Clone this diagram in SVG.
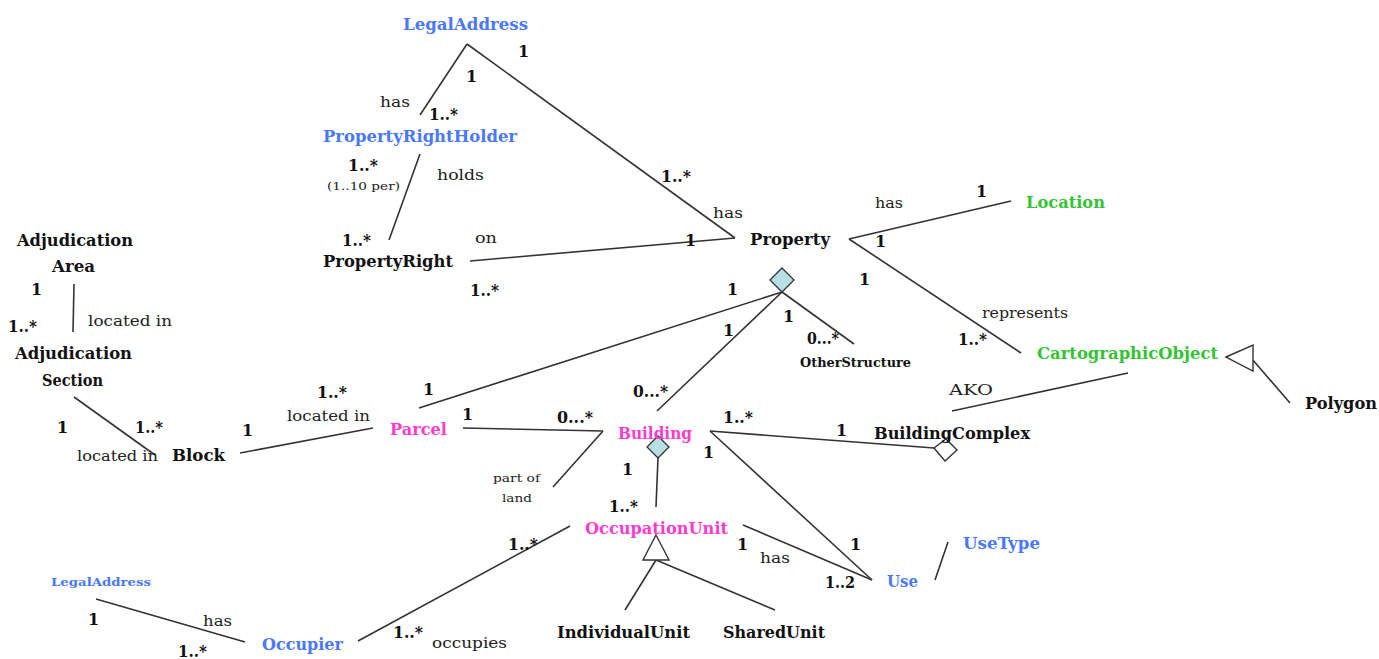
<svg xmlns="http://www.w3.org/2000/svg" width="1379" height="659" viewBox="0 0 1379 659">
  <style>
    .n { font-family: "DejaVu Serif", "Liberation Serif", serif; font-weight: bold; font-size: 17px; fill: #111; }
    .blue { fill: #4a78ff; }
    .green { fill: #33c433; }
    .pink { fill: #ff3ccc; }
    .sm { font-size: 12.5px; }
    .xs { font-size: 11.5px; }
    .mu { font-family: "DejaVu Serif", "Liberation Serif", serif; font-weight: bold; font-size: 16px; fill: #111; }
    .lb { font-family: "DejaVu Serif", "Liberation Serif", serif; font-size: 15.5px; fill: #222; }
    .lbs { font-family: "DejaVu Serif", "Liberation Serif", serif; font-size: 11.5px; fill: #222; }
    .ln { stroke: #333; stroke-width: 1.6; fill: none; }
    .agg { fill: #b8dfe3; stroke: #333; stroke-width: 1.3; }
    .open { fill: #fff; stroke: #333; stroke-width: 1.4; }
  </style>
  <rect width="1379" height="659" fill="#fff"/>

  <!-- associations, aggregations and generalizations -->
  <g id="connectors">
    <line class="ln" x1="467" y1="44" x2="420" y2="115"/>
    <line class="ln" x1="467" y1="44" x2="735" y2="238"/>
    <line class="ln" x1="420" y1="154" x2="389" y2="240"/>
    <line class="ln" x1="470" y1="261" x2="735" y2="238"/>
    <line class="ln" x1="849" y1="239" x2="1011" y2="201"/>
    <line class="ln" x1="849" y1="239" x2="1021" y2="353"/>
    <line class="ln" x1="782" y1="292" x2="419" y2="408"/>
    <line class="ln" x1="782" y1="292" x2="657" y2="411"/>
    <line class="ln" x1="782" y1="292" x2="854" y2="344"/>
    <line class="ln" x1="463" y1="428" x2="603" y2="431"/>
    <line class="ln" x1="603" y1="431" x2="553" y2="487"/>
    <line class="ln" x1="658" y1="458" x2="656" y2="507"/>
    <line class="ln" x1="710" y1="431" x2="934" y2="448"/>
    <line class="ln" x1="710" y1="431" x2="872" y2="580"/>
    <line class="ln" x1="743" y1="525" x2="872" y2="580"/>
    <line class="ln" x1="935" y1="580" x2="948" y2="542"/>
    <line class="ln" x1="656" y1="560" x2="625" y2="610"/>
    <line class="ln" x1="656" y1="560" x2="775" y2="610"/>
    <line class="ln" x1="570" y1="526" x2="358" y2="641"/>
    <line class="ln" x1="96" y1="599" x2="245" y2="642"/>
    <line class="ln" x1="74" y1="284" x2="73" y2="332"/>
    <line class="ln" x1="74" y1="397" x2="155" y2="455"/>
    <line class="ln" x1="240" y1="453" x2="373" y2="428"/>
    <line class="ln" x1="952" y1="411" x2="1128" y2="373"/>
    <line class="ln" x1="1252" y1="359" x2="1290" y2="403"/>
    <!-- aggregation diamonds and generalization triangles -->
    <polygon class="agg" points="782,268 794,280 782,292 770,280"/>
    <polygon class="agg" points="658,436 669,447 658,458 647,447"/>
    <polygon class="open" points="934,448 946,439 957,450 945,461"/>
    <polygon class="open" points="656,535 669,560 643,560"/>
    <polygon class="open" points="1226,357 1253,345 1253,371"/>
  </g>

  <!-- classes -->
  <g id="legal-address"><text class="n blue" x="403" y="30" textLength="125" lengthAdjust="spacingAndGlyphs">LegalAddress</text></g>
  <g id="property-right-holder"><text class="n blue" x="323" y="142" textLength="194" lengthAdjust="spacingAndGlyphs">PropertyRightHolder</text></g>
  <g id="property-right"><text class="n" x="323" y="267" textLength="130" lengthAdjust="spacingAndGlyphs">PropertyRight</text></g>
  <g id="property"><text class="n" x="750" y="245" textLength="80" lengthAdjust="spacingAndGlyphs">Property</text></g>
  <g id="location"><text class="n green" x="1026" y="208" textLength="79" lengthAdjust="spacingAndGlyphs">Location</text></g>
  <g id="cartographic-object"><text class="n green" x="1037" y="359" textLength="181" lengthAdjust="spacingAndGlyphs">CartographicObject</text></g>
  <g id="polygon"><text class="n" x="1305" y="409" textLength="72" lengthAdjust="spacingAndGlyphs">Polygon</text></g>
  <g id="other-structure"><text class="n sm" x="800" y="367" textLength="111" lengthAdjust="spacingAndGlyphs">OtherStructure</text></g>
  <g id="building-complex"><text class="n" x="874" y="439" textLength="156" lengthAdjust="spacingAndGlyphs">BuildingComplex</text></g>
  <g id="building"><text class="n pink" x="618" y="439" textLength="74" lengthAdjust="spacingAndGlyphs">Building</text></g>
  <g id="parcel"><text class="n pink" x="390" y="435" textLength="57" lengthAdjust="spacingAndGlyphs">Parcel</text></g>
  <g id="block"><text class="n" x="172" y="461" textLength="53" lengthAdjust="spacingAndGlyphs">Block</text></g>
  <g id="adjudication-area">
    <text class="n" x="17" y="246" textLength="116" lengthAdjust="spacingAndGlyphs">Adjudication</text>
    <text class="n" x="52" y="272" textLength="43" lengthAdjust="spacingAndGlyphs">Area</text>
  </g>
  <g id="adjudication-section">
    <text class="n" x="15" y="359" textLength="117" lengthAdjust="spacingAndGlyphs">Adjudication</text>
    <text class="n" x="42" y="386" textLength="61" lengthAdjust="spacingAndGlyphs">Section</text>
  </g>
  <g id="occupation-unit"><text class="n pink" x="585" y="534" textLength="143" lengthAdjust="spacingAndGlyphs">OccupationUnit</text></g>
  <g id="individual-unit"><text class="n" x="557" y="638" textLength="133" lengthAdjust="spacingAndGlyphs">IndividualUnit</text></g>
  <g id="shared-unit"><text class="n" x="723" y="638" textLength="102" lengthAdjust="spacingAndGlyphs">SharedUnit</text></g>
  <g id="use"><text class="n blue" x="887" y="587" textLength="31" lengthAdjust="spacingAndGlyphs">Use</text></g>
  <g id="use-type"><text class="n blue" x="963" y="549" textLength="77" lengthAdjust="spacingAndGlyphs">UseType</text></g>
  <g id="occupier"><text class="n blue" x="262" y="650" textLength="81" lengthAdjust="spacingAndGlyphs">Occupier</text></g>
  <g id="occupier-legal-address"><text class="n blue xs" x="51" y="586" textLength="100" lengthAdjust="spacingAndGlyphs">LegalAddress</text></g>

  <!-- multiplicities -->
  <g id="multiplicities">
    <text class="mu" x="518" y="57">1</text>
    <text class="mu" x="466" y="82">1</text>
    <text class="mu" x="429" y="120" textLength="29" lengthAdjust="spacingAndGlyphs">1..*</text>
    <text class="mu" x="348" y="171" textLength="30" lengthAdjust="spacingAndGlyphs">1..*</text>
    <text class="mu" x="661" y="182" textLength="30" lengthAdjust="spacingAndGlyphs">1..*</text>
    <text class="mu" x="342" y="246" textLength="29" lengthAdjust="spacingAndGlyphs">1..*</text>
    <text class="mu" x="685" y="246">1</text>
    <text class="mu" x="470" y="296" textLength="29" lengthAdjust="spacingAndGlyphs">1..*</text>
    <text class="mu" x="727" y="295">1</text>
    <text class="mu" x="976" y="197">1</text>
    <text class="mu" x="875" y="247">1</text>
    <text class="mu" x="859" y="285">1</text>
    <text class="mu" x="723" y="336">1</text>
    <text class="mu" x="783" y="322">1</text>
    <text class="mu" x="807" y="344" textLength="32" lengthAdjust="spacingAndGlyphs">0...*</text>
    <text class="mu" x="958" y="345" textLength="29" lengthAdjust="spacingAndGlyphs">1..*</text>
    <text class="mu" x="836" y="436">1</text>
    <text class="mu" x="723" y="423" textLength="30" lengthAdjust="spacingAndGlyphs">1..*</text>
    <text class="mu" x="703" y="458">1</text>
    <text class="mu" x="557" y="423" textLength="36" lengthAdjust="spacingAndGlyphs">0...*</text>
    <text class="mu" x="462" y="420">1</text>
    <text class="mu" x="423" y="395">1</text>
    <text class="mu" x="633" y="397" textLength="35" lengthAdjust="spacingAndGlyphs">0...*</text>
    <text class="mu" x="317" y="398" textLength="30" lengthAdjust="spacingAndGlyphs">1..*</text>
    <text class="mu" x="242" y="436">1</text>
    <text class="mu" x="135" y="433" textLength="28" lengthAdjust="spacingAndGlyphs">1..*</text>
    <text class="mu" x="57" y="433">1</text>
    <text class="mu" x="8" y="332" textLength="29" lengthAdjust="spacingAndGlyphs">1..*</text>
    <text class="mu" x="31" y="295">1</text>
    <text class="mu" x="622" y="475">1</text>
    <text class="mu" x="609" y="512" textLength="29" lengthAdjust="spacingAndGlyphs">1..*</text>
    <text class="mu" x="508" y="550" textLength="30" lengthAdjust="spacingAndGlyphs">1..*</text>
    <text class="mu" x="737" y="550">1</text>
    <text class="mu" x="850" y="550">1</text>
    <text class="mu" x="825" y="588" textLength="30" lengthAdjust="spacingAndGlyphs">1..2</text>
    <text class="mu" x="393" y="638" textLength="30" lengthAdjust="spacingAndGlyphs">1..*</text>
    <text class="mu" x="88" y="625">1</text>
    <text class="mu" x="178" y="657" textLength="29" lengthAdjust="spacingAndGlyphs">1..*</text>
  </g>

  <!-- association names -->
  <g id="labels">
    <text class="lb" x="380" y="107" textLength="30" lengthAdjust="spacingAndGlyphs">has</text>
    <text class="lb" x="437" y="180" textLength="47" lengthAdjust="spacingAndGlyphs">holds</text>
    <text class="lbs" x="327" y="190" textLength="73" lengthAdjust="spacingAndGlyphs">(1..10 per)</text>
    <text class="lb" x="713" y="218" textLength="30" lengthAdjust="spacingAndGlyphs">has</text>
    <text class="lb" x="475" y="243" textLength="22" lengthAdjust="spacingAndGlyphs">on</text>
    <text class="lb" x="875" y="208" textLength="28" lengthAdjust="spacingAndGlyphs">has</text>
    <text class="lb" x="982" y="318" textLength="86" lengthAdjust="spacingAndGlyphs">represents</text>
    <text class="lb" x="949" y="395" textLength="44" lengthAdjust="spacingAndGlyphs">AKO</text>
    <text class="lb" x="287" y="421" textLength="83" lengthAdjust="spacingAndGlyphs">located in</text>
    <text class="lb" x="77" y="461" textLength="81" lengthAdjust="spacingAndGlyphs">located in</text>
    <text class="lb" x="88" y="326" textLength="84" lengthAdjust="spacingAndGlyphs">located in</text>
    <text class="lbs" x="493" y="482" textLength="47" lengthAdjust="spacingAndGlyphs">part of</text>
    <text class="lbs" x="502" y="502" textLength="30" lengthAdjust="spacingAndGlyphs">land</text>
    <text class="lb" x="760" y="563" textLength="30" lengthAdjust="spacingAndGlyphs">has</text>
    <text class="lb" x="432" y="648" textLength="75" lengthAdjust="spacingAndGlyphs">occupies</text>
    <text class="lb" x="203" y="626" textLength="29" lengthAdjust="spacingAndGlyphs">has</text>
  </g>
</svg>
